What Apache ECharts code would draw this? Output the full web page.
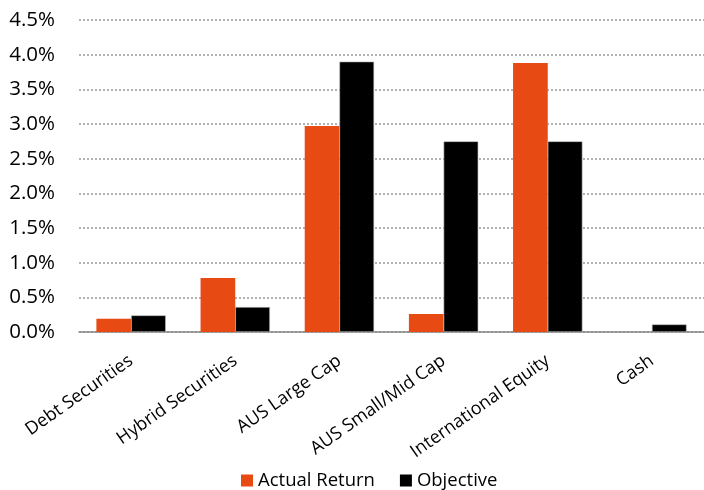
<!DOCTYPE html>
<html>
<head>
<meta charset="utf-8">
<script src="https://cdn.jsdelivr.net/npm/echarts@6/dist/echarts.min.js"></script>
<style>
  html, body { margin: 0; padding: 0; background: #fff; }
  #chart { width: 704px; height: 490px; }
</style>
</head>
<body>
<div id="chart"></div>
<script>
// Asset classes on the category axis
const categories = ['Debt Securities', 'Hybrid Securities', 'AUS Large Cap', 'AUS Small/Mid Cap', 'International Equity', 'Cash'];
// Returns in percent
const actualReturn = [0.19, 0.78, 2.97, 0.26, 3.88, 0];
const objective = [0.24, 0.36, 3.90, 2.75, 2.75, 0.11];
const seriesNames = ['Actual Return', 'Objective'];

const FONT = '"Open Sans", sans-serif';
const chart = echarts.init(document.getElementById('chart'));

chart.setOption({
  animation: false,
  grid: { left: 79, right: -2, top: 20, bottom: 158, containLabel: false },
  legend: {
    data: seriesNames,
    top: 471,
    left: 241,
    padding: 0,
    itemWidth: 12,
    itemHeight: 12,
    itemGap: 25,
    icon: 'rect',
    itemStyle: { borderWidth: 0 },
    textStyle: { fontFamily: FONT, fontSize: 18.5, color: '#000' }
  },
  xAxis: {
    type: 'category',
    data: categories,
    axisLine: { lineStyle: { color: '#888', width: 1.5 } },
    axisTick: { inside: true, length: 6, lineStyle: { color: '#888', width: 1.5 } },
    axisLabel: { rotate: 35, fontFamily: FONT, fontSize: 18, color: '#000', margin: 27, interval: 0 }
  },
  yAxis: {
    type: 'value',
    min: 0,
    max: 4.5,
    interval: 0.5,
    axisLine: { show: false },
    axisTick: { show: false },
    axisLabel: {
      fontFamily: FONT, fontSize: 20.5, color: '#000', margin: 24,
      formatter: v => v.toFixed(1) + '%'
    },
    splitLine: { lineStyle: { type: [2, 2], color: '#999', width: 1.5 } }
  },
  series: [
    {
      name: seriesNames[0],
      type: 'bar',
      data: actualReturn,
      barWidth: '33.3%',
      barGap: '0%',
      itemStyle: { color: '#E84A14' }
    },
    {
      name: seriesNames[1],
      type: 'bar',
      data: objective,
      barWidth: '33.3%',
      itemStyle: { color: '#000', borderColor: '#bbb', borderWidth: 0.6 }
    }
  ]
});
</script>
</body>
</html>
